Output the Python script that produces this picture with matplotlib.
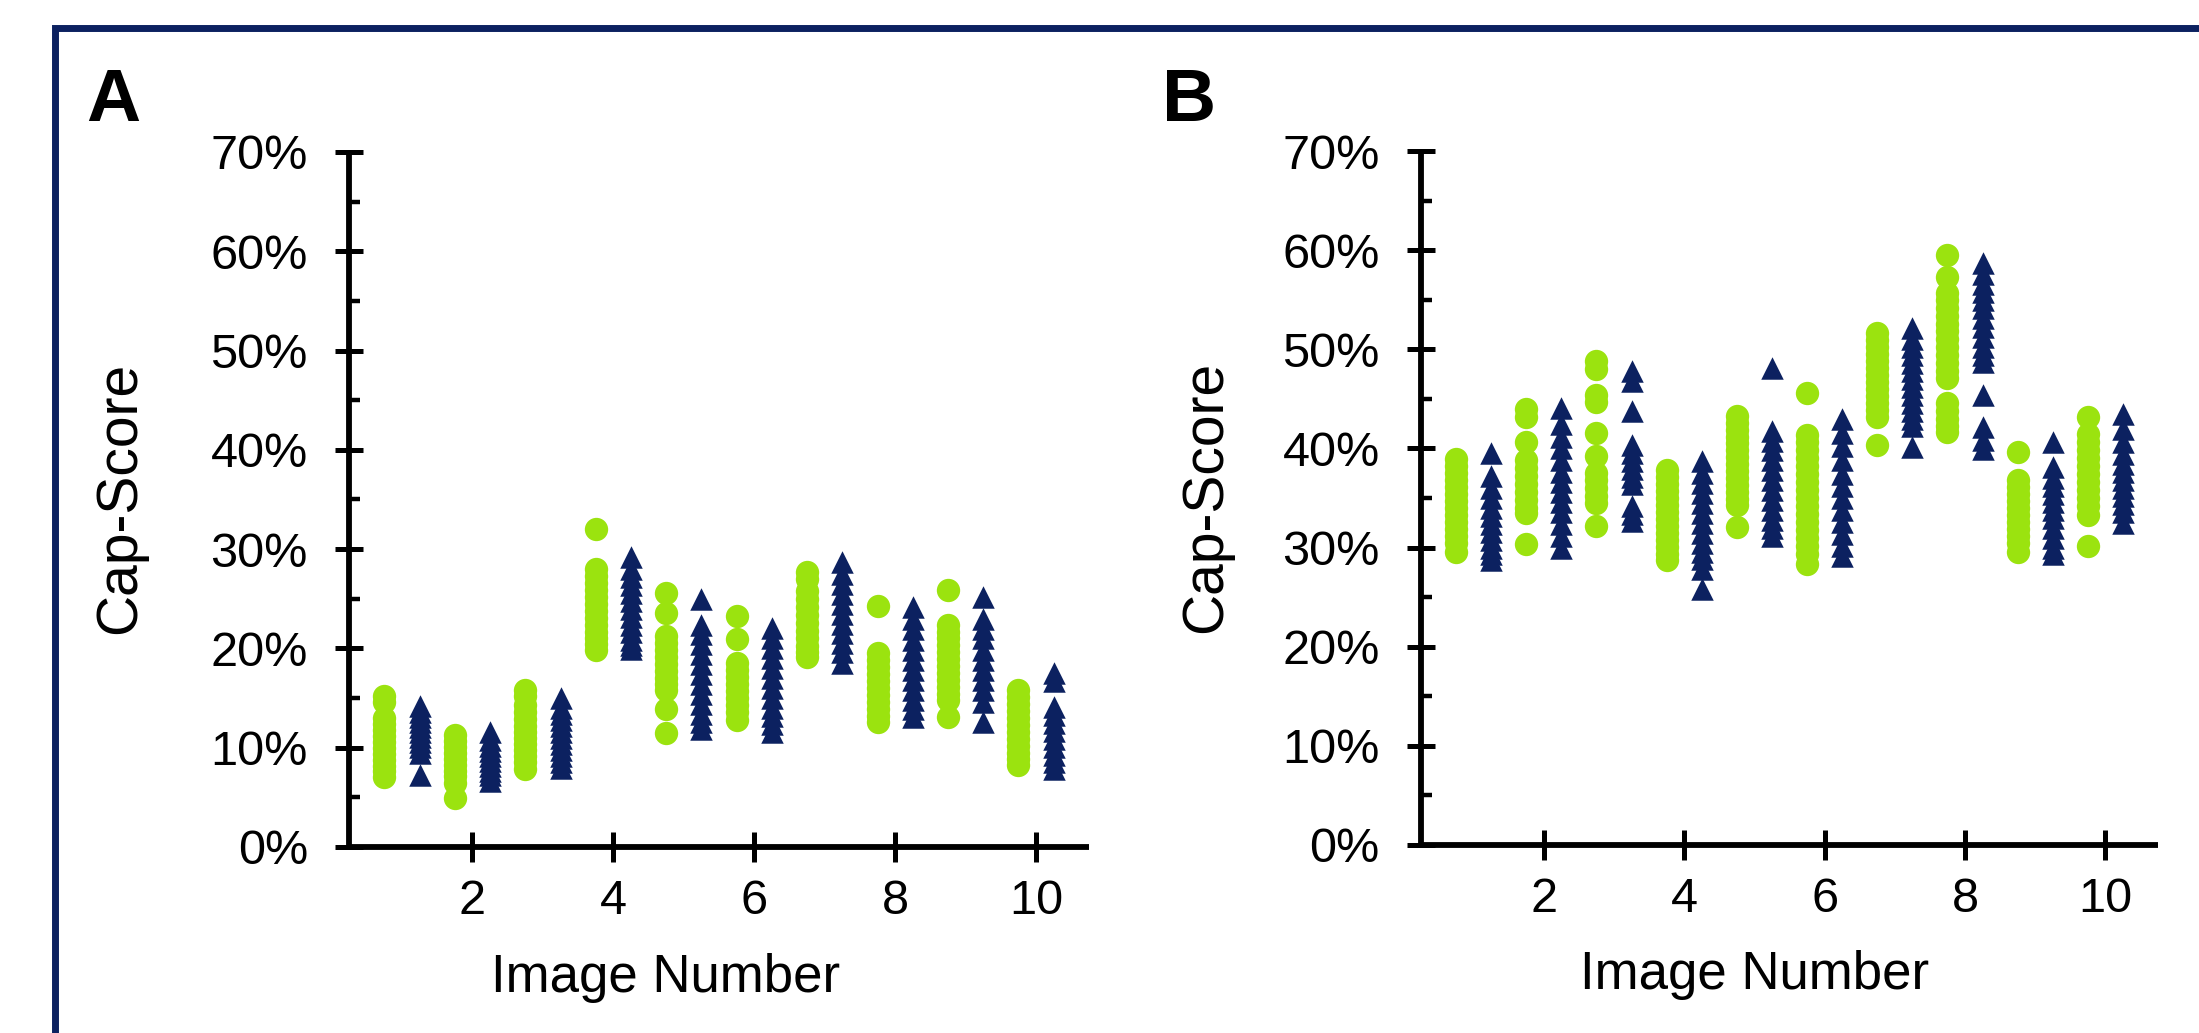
import matplotlib
matplotlib.use("Agg")
import matplotlib.pyplot as plt
from matplotlib.patches import Rectangle
from matplotlib.ticker import MultipleLocator, FuncFormatter

plt.rcParams["font.family"] = ["Liberation Sans", "DejaVu Sans"]

GREEN = "#9BE30F"
NAVY = "#0C2160"

images = [1, 2, 3, 4, 5, 6, 7, 8, 9, 10]
x_ticks = [2, 4, 6, 8, 10]
y_ticks = [0, 10, 20, 30, 40, 50, 60, 70]

# Cap-Score (%) per image, panel A
a_circle = [
    [15.2, 14.6, 13.0, 12.4, 11.8, 11.2, 10.6, 10.0, 9.4, 8.8, 8.2, 7.6, 7.0],
    [11.3, 10.7, 10.1, 9.5, 8.9, 8.3, 7.7, 7.1, 6.4, 4.9],
    [15.8, 15.2, 14.3, 13.6, 12.9, 12.2, 11.6, 11.0, 10.4, 9.8, 9.2, 8.6, 7.9],
    [32.0, 28.0, 27.3, 26.6, 25.9, 25.2, 24.5, 23.8, 23.1, 22.4, 21.7, 21.0, 20.4, 19.8],
    [25.6, 23.6, 21.2, 20.5, 19.8, 19.1, 18.4, 17.7, 17.0, 16.4, 15.8, 13.9, 11.45],
    [23.3, 20.9, 18.5, 17.8, 17.1, 16.4, 15.7, 15.0, 14.3, 13.6, 12.8],
    [27.7, 27.0, 25.8, 25.0, 24.2, 23.4, 22.6, 21.8, 21.0, 20.2, 19.6, 19.1],
    [24.3, 19.5, 18.8, 18.1, 17.4, 16.7, 16.0, 15.3, 14.6, 13.9, 13.2, 12.6],
    [25.9, 22.4, 21.7, 21.0, 20.3, 19.6, 18.9, 18.2, 17.5, 16.8, 16.1, 15.4, 14.8, 13.1],
    [15.8, 15.1, 14.4, 13.7, 13.0, 12.3, 11.6, 10.9, 10.2, 9.5, 8.9, 8.3],
]
a_triangle = [
    [14.2, 13.6, 13.1, 12.6, 12.1, 11.6, 11.1, 10.6, 10.1, 9.5, 7.2],
    [11.6, 10.8, 10.2, 9.7, 9.2, 8.7, 8.2, 7.7, 7.2, 6.6],
    [15.0, 14.0, 13.4, 12.8, 12.2, 11.6, 11.0, 10.4, 9.8, 9.2, 8.6, 8.0],
    [29.2, 28.0, 27.2, 26.4, 25.6, 24.8, 24.0, 23.2, 22.4, 21.6, 20.8, 20.3, 19.9],
    [25.0, 22.4, 21.4, 20.4, 19.4, 18.4, 17.4, 16.4, 15.4, 14.4, 13.4, 12.6, 11.9],
    [22.1, 21.0, 20.0, 19.0, 18.0, 17.0, 16.0, 15.0, 14.0, 13.2, 12.4, 11.6],
    [28.7, 27.5, 26.5, 25.5, 24.5, 23.5, 22.5, 21.5, 20.5, 19.6, 18.5],
    [24.2, 23.0, 22.0, 20.8, 19.8, 18.8, 17.8, 16.8, 15.8, 14.8, 13.9, 13.1],
    [25.2, 23.0, 22.0, 21.0, 19.8, 18.8, 17.8, 16.8, 15.8, 14.6, 12.6],
    [17.5, 16.7, 14.1, 13.3, 12.5, 11.7, 10.9, 10.1, 9.3, 8.6, 7.85],
]

# Cap-Score (%) per image, panel B
b_circle = [
    [38.9, 38.2, 37.5, 36.8, 36.1, 35.4, 34.7, 34.0, 33.3, 32.6, 31.9, 31.2, 30.5, 29.6],
    [44.0, 43.2, 40.6, 38.8, 38.0, 37.2, 36.4, 35.6, 34.8, 34.0, 33.5, 30.4],
    [48.8, 48.0, 45.4, 44.7, 41.6, 39.2, 37.5, 36.8, 36.0, 35.2, 34.5, 32.2],
    [37.8, 37.1, 36.4, 35.7, 35.0, 34.3, 33.6, 32.9, 32.2, 31.5, 30.8, 30.1, 29.4, 28.7],
    [43.3, 42.6, 41.9, 41.2, 40.5, 39.8, 39.1, 38.4, 37.7, 37.0, 36.3, 35.6, 34.9, 34.3, 32.1],
    [45.6, 41.4, 40.6, 39.8, 39.0, 38.2, 37.4, 36.6, 35.8, 35.0, 34.2, 33.4, 32.6, 31.8,
     31.0, 30.2, 29.4, 28.3],
    [51.6, 50.9, 50.2, 49.5, 48.8, 48.1, 47.4, 46.7, 46.0, 45.3, 44.6, 43.9, 43.2, 40.3],
    [59.5, 57.3, 55.7, 55.0, 54.2, 53.4, 52.6, 51.8, 51.0, 50.2, 49.4, 48.6, 47.8, 47.1,
     44.6, 43.8, 43.0, 42.3, 41.7],
    [39.6, 36.8, 36.1, 35.4, 34.7, 34.0, 33.3, 32.6, 31.9, 31.2, 30.5, 29.6],
    [43.2, 41.5, 40.6, 39.8, 39.0, 38.2, 37.4, 36.6, 35.8, 35.0, 34.2, 33.3, 30.2],
]
b_triangle = [
    [39.5, 37.2, 36.0, 35.0, 34.0, 33.2, 32.4, 31.6, 30.8, 30.0, 29.4, 28.7],
    [44.1, 42.5, 41.2, 40.0, 38.8, 37.6, 36.6, 35.6, 34.6, 33.6, 32.4, 31.2, 30.0],
    [47.8, 46.8, 43.8, 40.3, 39.5, 38.7, 37.9, 37.1, 36.4, 34.2, 33.4, 32.7],
    [38.7, 37.5, 36.5, 35.5, 34.5, 33.5, 32.5, 31.5, 30.5, 29.6, 28.8, 27.8, 25.8],
    [48.1, 41.8, 40.8, 39.8, 38.8, 37.8, 36.8, 35.8, 34.8, 33.8, 32.8, 32.0, 31.2],
    [43.0, 41.6, 40.2, 38.8, 37.4, 36.2, 35.0, 33.8, 32.6, 31.4, 30.2, 29.2],
    [52.1, 51.0, 50.2, 49.4, 48.6, 47.8, 47.0, 46.2, 45.4, 44.6, 43.8, 43.0, 42.3, 40.1],
    [58.7, 57.6, 56.6, 55.8, 55.0, 54.2, 53.2, 52.2, 51.2, 50.2, 49.4, 48.7, 45.4, 42.2,
     40.9, 39.9],
    [40.7, 38.1, 37.0, 36.2, 35.4, 34.6, 33.8, 33.0, 32.0, 31.0, 30.0, 29.4],
    [43.5, 42.0, 40.6, 39.4, 38.4, 37.6, 36.8, 36.0, 35.2, 34.4, 33.6, 32.5],
]

fig = plt.figure(figsize=(21.99, 10.33), dpi=100)

# navy frame (only the top and left edges are inside the picture)
fig.add_artist(Rectangle((0.0248, -0.2), 1.5, 0.9729 + 0.2, transform=fig.transFigure,
                         fill=False, edgecolor=NAVY, linewidth=5.0, clip_on=False))


def draw_panel(ax, circles, triangles, letter, letter_x, ylab_x, xlab_x):
    for n, vals in zip(images, circles):
        ax.scatter([n - 0.25] * len(vals), vals, s=282, marker="o",
                   color=GREEN, linewidths=0, zorder=3)
    for n, vals in zip(images, triangles):
        ax.scatter([n + 0.25] * len(vals), vals, s=262, marker="^",
                   color=NAVY, linewidths=0, zorder=3)

    ax.set_xlim(0.25, 10.75)
    ax.set_ylim(0, 70)
    ax.set_xticks(x_ticks)
    ax.set_yticks(y_ticks)
    ax.yaxis.set_minor_locator(MultipleLocator(5))
    ax.yaxis.set_major_formatter(FuncFormatter(lambda v, p: f"{v:.0f}%"))

    for s in ["top", "right"]:
        ax.spines[s].set_visible(False)
    for s in ["left", "bottom"]:
        ax.spines[s].set_linewidth(4.2)
        ax.spines[s].set_capstyle("butt")

    ax.tick_params(axis="x", which="major", direction="inout", length=21.5,
                   width=3.6, labelsize=35, pad=12)
    ax.tick_params(axis="y", which="major", direction="inout", length=19.5,
                   width=3.6, labelsize=35, pad=20)
    ax.tick_params(axis="y", which="minor", direction="in", length=8,
                   width=3.2)

    ax.text(ylab_x, 0.502, "Cap-Score", transform=ax.transAxes, rotation=90,
            ha="center", va="center", fontsize=41)
    ax.text(xlab_x, -0.188, "Image Number", transform=ax.transAxes,
            ha="center", va="center", fontsize=38)
    fig.text(letter_x, 1 - 121 / 1033, letter, fontsize=54, fontweight="bold",
             ha="left", va="baseline")


axA = fig.add_axes([0.1588, 0.1801, 0.3364, 0.6728])
draw_panel(axA, a_circle, a_triangle, "A", 86 / 2199, -0.309, 0.428)

axB = fig.add_axes([0.6462, 0.1820, 0.3352, 0.6718])
draw_panel(axB, b_circle, b_triangle, "B", 1162 / 2199, -0.291, 0.453)

fig.savefig("out.png", dpi=100)
